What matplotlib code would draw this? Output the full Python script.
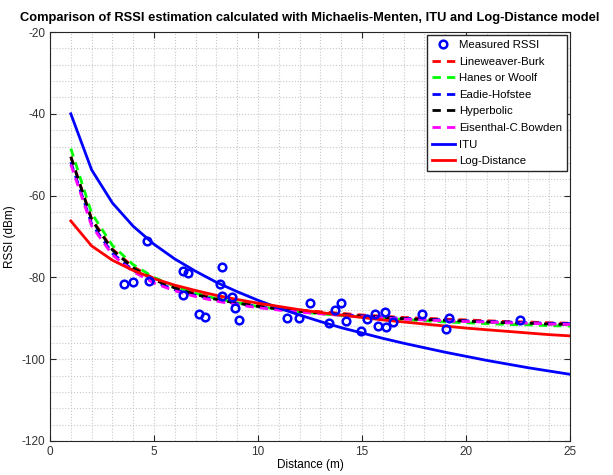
import numpy as np
import matplotlib.pyplot as plt
from matplotlib.ticker import MultipleLocator

# measured RSSI points
meas_d = [3.55, 4.0, 4.64, 4.75, 6.37, 6.64, 6.37, 7.17, 7.44, 8.25, 8.16, 8.29,
          8.77, 8.87, 9.09, 11.4, 11.98, 12.49, 13.42, 13.69, 13.97, 14.25,
          14.94, 15.22, 15.62, 15.77, 16.1, 16.14, 16.5, 17.86, 19.03, 19.19, 22.59]
meas_rssi = [-81.5, -81.1, -71.2, -80.8, -78.5, -78.9, -84.3, -88.9, -89.7, -77.5,
             -81.5, -84.6, -84.9, -87.4, -90.3, -89.9, -89.9, -86.2, -91.2, -87.9,
             -86.2, -90.6, -93.0, -90.2, -88.9, -92.0, -88.5, -92.2, -90.8, -88.9,
             -92.6, -89.9, -90.3]

# model curves at 1..25 m
dist = list(range(1, 26))
lineweaver = [-50.5, -65.7, -73.1, -77.4, -80.3, -82.3, -83.9, -85.1, -86.0, -86.8,
              -87.4, -88.0, -88.4, -88.8, -89.2, -89.5, -89.8, -90.0, -90.2, -90.4,
              -90.6, -90.8, -90.9, -91.1, -91.2]
hanes = [-48.5, -64.3, -72.2, -76.9, -80.0, -82.2, -83.9, -85.2, -86.2, -87.1,
         -87.8, -88.4, -88.9, -89.3, -89.7, -90.0, -90.3, -90.6, -90.9, -91.1,
         -91.3, -91.5, -91.6, -91.8, -91.9]
eadie = [-51.8, -66.9, -74.1, -78.3, -81.0, -83.0, -84.4, -85.5, -86.4, -87.2,
         -87.8, -88.3, -88.7, -89.1, -89.4, -89.7, -90.0, -90.2, -90.4, -90.6,
         -90.8, -90.9, -91.1, -91.2, -91.3]
hyperbolic = [-50.5, -65.9, -73.3, -77.7, -80.6, -82.6, -84.2, -85.4, -86.3, -87.1,
              -87.7, -88.3, -88.7, -89.1, -89.5, -89.8, -90.1, -90.3, -90.5, -90.7,
              -90.9, -91.1, -91.2, -91.4, -91.5]
eisenthal = [-52.4, -67.4, -74.5, -78.6, -81.4, -83.3, -84.7, -85.8, -86.7, -87.4,
             -88.0, -88.5, -88.9, -89.3, -89.6, -89.9, -90.2, -90.4, -90.6, -90.8,
             -90.9, -91.1, -91.2, -91.4, -91.5]
itu = [-40.0, -53.7, -61.8, -67.5, -71.9, -75.5, -78.5, -81.2, -83.5, -85.6,
       -87.5, -89.2, -90.8, -92.3, -93.6, -94.9, -96.1, -97.2, -98.3, -99.3,
       -100.3, -101.2, -102.1, -102.9, -103.7]
logdist = [-66.2, -72.3, -75.8, -78.3, -80.3, -81.9, -83.2, -84.4, -85.4, -86.3,
           -87.1, -87.9, -88.6, -89.2, -89.8, -90.4, -90.9, -91.4, -91.9, -92.4,
           -92.8, -93.2, -93.6, -94.0, -94.3]

plt.rcParams['font.family'] = ['Liberation Sans', 'DejaVu Sans']
plt.rcParams['axes.unicode_minus'] = False

fig = plt.figure(figsize=(6.13, 4.75), dpi=100)
ax = fig.add_axes([0.0816, 0.0716, 0.8484, 0.8610])

dash = (3, 2.2)
ax.plot(meas_d, meas_rssi, 'o', color='blue', mfc='none', ms=5.5, mew=1.8,
        label='Measured RSSI', zorder=5)
ax.plot(dist, lineweaver, color='red', lw=2, dashes=dash, label='Lineweaver-Burk')
ax.plot(dist, hanes, color='#00ff00', lw=2, dashes=dash, label='Hanes or Woolf')
ax.plot(dist, eadie, color='blue', lw=2, dashes=dash, label='Eadie-Hofstee')
ax.plot(dist, hyperbolic, color='black', lw=2, dashes=dash, label='Hyperbolic')
ax.plot(dist, eisenthal, color='magenta', lw=2, dashes=dash, label='Eisenthal-C.Bowden')
ax.plot(dist, itu, color='blue', lw=2, label='ITU')
ax.plot(dist, logdist, color='red', lw=2, label='Log-Distance')

ax.set_xlim(0, 25)
ax.set_ylim(-120, -20)
ax.xaxis.set_major_locator(MultipleLocator(5))
ax.xaxis.set_minor_locator(MultipleLocator(1))
ax.yaxis.set_major_locator(MultipleLocator(20))
ax.yaxis.set_minor_locator(MultipleLocator(4))
ax.grid(True, which='both', color='#c8c8c8', linestyle=':', linewidth=0.8)
ax.set_axisbelow(True)
ax.tick_params(which='major', direction='in', top=True, right=True, length=4,
               labelsize=8.5, colors='#262626', labelcolor='#333333')
ax.tick_params(which='minor', length=0)
for s in ax.spines.values():
    s.set_color('#262626')

ax.set_title('Comparison of RSSI estimation calculated with Michaelis-Menten, ITU and Log-Distance model',
             fontsize=9.3, fontweight='bold', pad=8)
ax.set_xlabel('Distance (m)', fontsize=8.5, labelpad=1)
ax.set_ylabel('RSSI (dBm)', fontsize=8.5, labelpad=4)

ax.legend(loc='upper right', fontsize=8.2, numpoints=1, handlelength=2.0,
          handletextpad=0.4, labelspacing=0.58, borderaxespad=0.25,
          fancybox=False, framealpha=1, edgecolor='#262626', borderpad=0.45)

fig.savefig('out.png', dpi=100)
